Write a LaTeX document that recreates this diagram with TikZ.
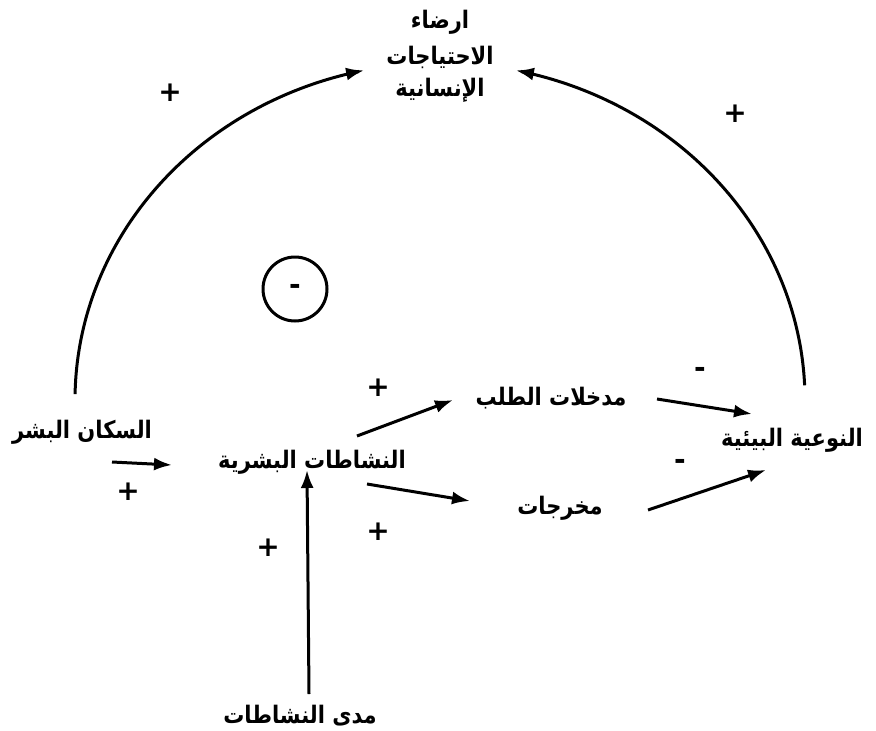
\documentclass[tikz,border=0pt]{standalone}
\usepackage{fontspec}
\newfontfamily\arabicfont[Script=Arabic]{DejaVu Sans}
\newfontfamily\signfont{DejaVu Sans}
\TeXXeTstate=1
\usetikzlibrary{arrows.meta}
\begin{document}
\begin{tikzpicture}[x=1pt,y=-1pt,
  lbl/.style={font=\arabicfont\bfseries\fontsize{21}{24}\selectfont, inner sep=0pt, yscale=1.15},
  sign/.style={font=\signfont\bfseries\fontsize{28}{28}\selectfont, inner sep=0pt},
  conn/.style={line width=3pt,-{Latex[length=18pt,width=13pt]}}]
\useasboundingbox (0,0) rectangle (876,731);
% labels
\node[lbl] (goal1) at (440,22) {\beginR ارضاء\endR};
\node[lbl] (goal2) at (440,57) {\beginR الاحتياجات\endR};
\node[lbl] (goal3) at (440,90) {\beginR الإنسانية\endR};
\node[lbl] (pop) at (82,432) {\beginR السكان البشر\endR};
\node[lbl] (act) at (312,462) {\beginR النشاطات البشرية\endR};
\node[lbl] (dem) at (551,398) {\beginR مدخلات الطلب\endR};
\node[lbl] (out) at (560,508) {\beginR مخرجات\endR};
\node[lbl] (env) at (792,440) {\beginR النوعية البيئية\endR};
\node[lbl] (rng) at (300,716) {\beginR مدى النشاطات\endR};
% signs
\node[sign] (s1) at (170,93) {+};
\node[sign] (s2) at (735,114) {+};
\node[sign] (s3) at (128,492) {+};
\node[sign] (s4) at (378,388) {+};
\node[sign] (s5) at (378,532) {+};
\node[sign] (s6) at (268,548) {+};
\node[sign] (s7) at (700,372) {-};
\node[sign] (s8) at (680,464) {-};
% loop circle
\node[draw, circle, line width=3pt, minimum size=64pt, inner sep=0pt, font=\signfont\bfseries\fontsize{28}{28}\selectfont] (loop) at (295,289) {-};
% arcs
\coordinate (popTop) at (75,395);
\coordinate (envTop) at (805,385);
\draw[conn] plot[domain=179:102, samples=60, smooth] ({440+365*cos(\x)},{400-337*sin(\x)});
\draw[conn] plot[domain=2.5:78, samples=60, smooth] ({440+365*cos(\x)},{400-337*sin(\x)});
% connectors
\coordinate (a1) at (112,462); \coordinate (a2) at (172,465);
\draw[conn] (a1) -- (a2);
\coordinate (b1) at (357,436); \coordinate (b2) at (453,400);
\draw[conn] (b1) -- (b2);
\coordinate (c1) at (367,484); \coordinate (c2) at (470,501);
\draw[conn] (c1) -- (c2);
\coordinate (d1) at (657,399); \coordinate (d2) at (752,414);
\draw[conn] (d1) -- (d2);
\coordinate (e1) at (648,510); \coordinate (e2) at (766,470);
\draw[conn] (e1) -- (e2);
\coordinate (f1) at (309,694); \coordinate (f2) at (307,470);
\draw[conn] (f1) -- (f2);
\end{tikzpicture}
\end{document}
